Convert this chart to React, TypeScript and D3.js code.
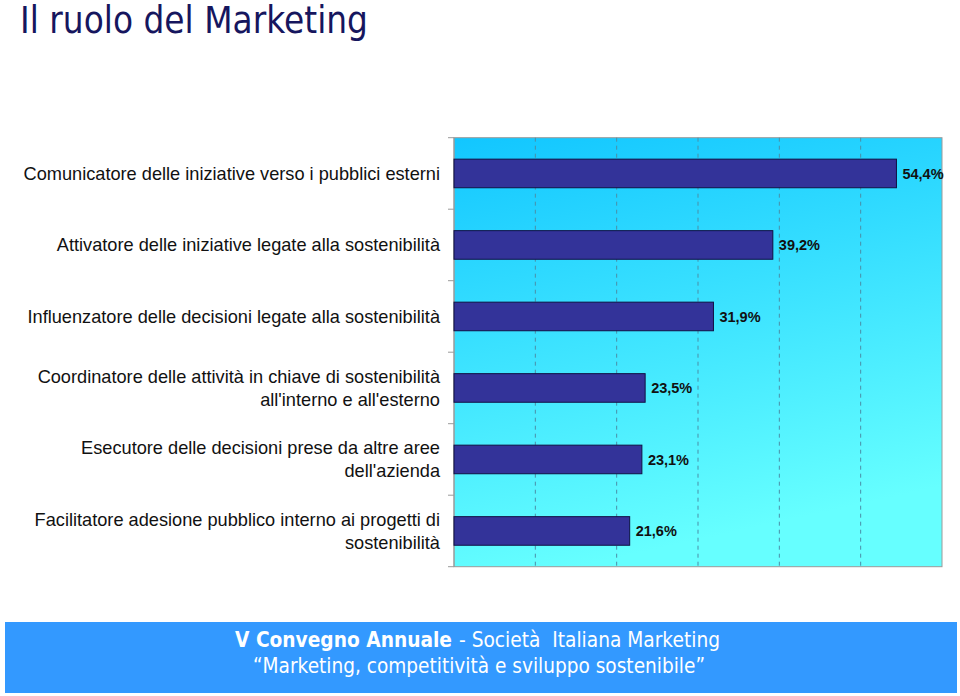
import React from "react";
import * as d3 from "d3";

const categories: string[][] = [
  ["Comunicatore delle iniziative verso i pubblici esterni"],
  ["Attivatore delle iniziative legate alla sostenibilità"],
  ["Influenzatore delle decisioni legate alla sostenibilità"],
  ["Coordinatore delle attività in chiave di sostenibilità", "all'interno e all'esterno"],
  ["Esecutore delle decisioni prese da altre aree", "dell'azienda"],
  ["Facilitatore adesione pubblico interno ai progetti di", "sostenibilità"],
];
const values: number[] = [54.4, 39.2, 31.9, 23.5, 23.1, 21.6];
const valueLabels: string[] = ["54,4%", "39,2%", "31,9%", "23,5%", "23,1%", "21,6%"];
const gridTicks: number[] = [0, 10, 20, 30, 40, 50, 60];

const title = "Il ruolo del Marketing";
const footerLine1Bold = "V Convegno Annuale";
const footerLine1Rest = "- Società\u00A0 Italiana Marketing";
const footerLine2 = "\u201CMarketing, competitività e sviluppo sostenibile\u201D";

export default function App() {
  const W = 960, H = 696;
  const left = 454, right = 942, top = 137.7, bottom = 566.7;
  const x = d3.scaleLinear().domain([0, 60]).range([left, right]);
  const idx = categories.map((_, i) => String(i));
  const y = d3.scaleBand().domain(idx).range([top, bottom]).paddingInner(0.6).paddingOuter(0.3);
  const boundaries = d3.range(categories.length + 1).map((i) => top + i * (bottom - top) / categories.length);

  return (
    <svg width={W} height={H} style={{ position: "absolute", left: 0, top: 0, background: "#fff" }}>
      <defs>
        <linearGradient id="bg" x1="0" y1="0" x2="0.25" y2="1">
          <stop offset="0" stopColor="#12c6ff" />
          <stop offset="1" stopColor="#66ffff" />
        </linearGradient>
      </defs>
      <text x={20} y={33} fontFamily="'DejaVu Sans'" fontSize={37} textLength={348} lengthAdjust="spacingAndGlyphs" fill="#16165e">{title}</text>

      <rect x={left} y={top} width={right - left} height={bottom - top} fill="url(#bg)" stroke="#9a9a9a" strokeWidth={1} />
      {gridTicks.slice(1, -1).map((t) => (
        <line key={t} x1={x(t)} x2={x(t)} y1={top} y2={bottom} stroke="#4a8fa8" strokeWidth={1} strokeDasharray="4,4" />
      ))}
      {boundaries.map((b, i) => (
        <line key={i} x1={left - 6} x2={left} y1={b} y2={b} stroke="#9a9a9a" strokeWidth={1} />
      ))}
      <line x1={left} x2={left} y1={top} y2={bottom} stroke="#9a9a9a" />

      {values.map((v, i) => {
        const yy = y(String(i))!;
        const h = y.bandwidth();
        return (
          <g key={i}>
            <rect x={x(0)} y={yy} width={x(v) - x(0)} height={h} fill="#333399" stroke="#111144" strokeWidth={1} />
            <text x={x(v) + 6} y={yy + h / 2} dy="0.35em" fontFamily="'Liberation Sans', Arial" fontWeight="bold" fontSize={14.5} fill="#111">{valueLabels[i]}</text>
          </g>
        );
      })}

      {categories.map((lines, i) => {
        const cy = y(String(i))! + y.bandwidth() / 2;
        const lh = 23;
        const start = cy - ((lines.length - 1) * lh) / 2;
        return (
          <text key={i} textAnchor="end" fontFamily="'Liberation Sans', Arial" fontSize={18.2} fill="#111">
            {lines.map((l, j) => (
              <tspan key={j} x={440} y={start + j * lh} dy="0.35em">{l}</tspan>
            ))}
          </text>
        );
      })}

      <rect x={5} y={622} width={952} height={71} fill="#3399ff" />
      <text x={235} y={647} fontFamily="'DejaVu Sans'" fontWeight="bold" fontSize={21} textLength={217} lengthAdjust="spacingAndGlyphs" fill="#fff">{footerLine1Bold}</text>
      <text x={459} y={647} fontFamily="'DejaVu Sans'" fontSize={21} textLength={261} lengthAdjust="spacingAndGlyphs" fill="#fff">{footerLine1Rest}</text>
      <text x={253} y={673} fontFamily="'DejaVu Sans'" fontSize={21} textLength={452} lengthAdjust="spacingAndGlyphs" fill="#fff">{footerLine2}</text>
    </svg>
  );
}
